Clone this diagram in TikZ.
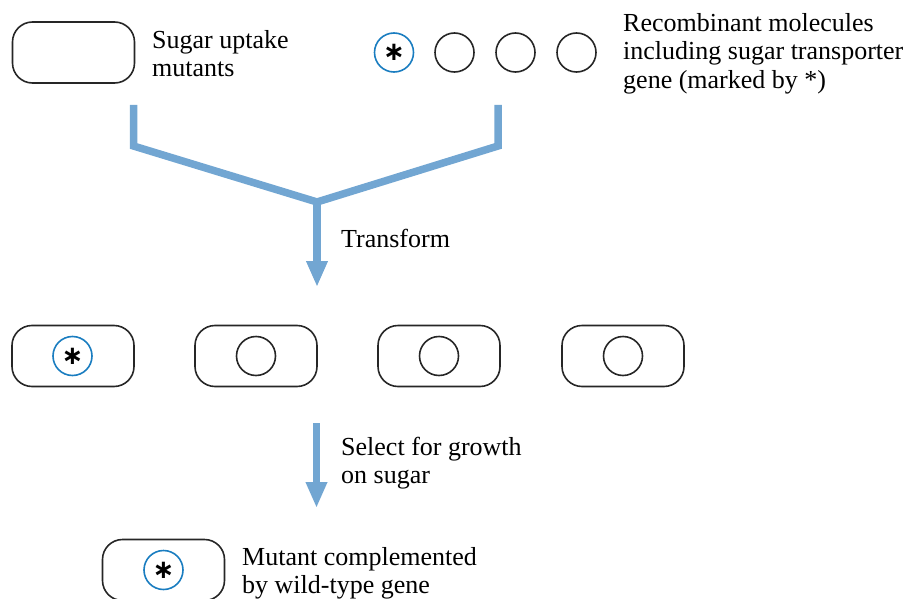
\documentclass[tikz,border=0pt]{standalone}
\usepackage{fontspec}
\setmainfont{Liberation Serif}
\newfontfamily\astfont{DejaVu Sans}
\usetikzlibrary{arrows.meta}
\definecolor{flowblue}{HTML}{72A6D2}
\definecolor{geneblue}{HTML}{1A7DC0}
\tikzset{
  cell/.style={draw=black!85, line width=1.6pt, rounded corners=20pt, minimum width=122pt, minimum height=61pt, inner sep=0pt},
  plasmid/.style={draw=black!85, line width=1.6pt, circle, minimum size=39pt, inner sep=0pt},
  recomb/.style={draw=geneblue, line width=1.6pt, circle, minimum size=39pt, inner sep=0pt},
  lbl/.style={anchor=base west, inner sep=0pt, align=left, font=\fontsize{26}{28.6}\selectfont},
  flow/.style={draw=flowblue, line width=7.5pt, miter limit=10},
  flowarrow/.style={flow, -{Triangle[width=20pt,length=26pt]}},
  ast/.style={inner sep=0pt, font=\astfont\bfseries\fontsize{26}{26}\selectfont}
}
\begin{document}
\begin{tikzpicture}[x=1pt,y=-1pt]
\useasboundingbox (0,0) rectangle (912,599);
% top row
\node[cell] (mut) at (73.5,52.5) {};
\node[lbl] (mutlbl) at (152,77) {Sugar uptake\\mutants};
\node[recomb] (r1) at (394,52.5) {};
\node[ast] (a1) at (r1.center) {∗};
\node[plasmid] (r2) at (454.5,52.5) {};
\node[plasmid] (r3) at (515.5,52.5) {};
\node[plasmid] (r4) at (576.5,52.5) {};
\node[lbl] (reclbl) at (623,88.5) {Recombinant molecules\\including sugar transporter\\gene (marked by *)};
% merging arrow
\coordinate (lt) at (133.5,105);
\coordinate (lc) at (133.5,146);
\coordinate (rt) at (498,105);
\coordinate (rc) at (498,146);
\coordinate (j) at (317,202);
\coordinate (t1) at (317,287);
\draw[flow] (lt) -- (lc) -- (j) -- (rc) -- (rt);
\draw[flowarrow] (j) -- (t1);
\node[lbl] (trlbl) at (341,247) {Transform};
% middle row
\node[cell] (c1) at (73,356) {};
\node[recomb] (p1) at (72.5,356) {};
\node[ast] (a2) at (p1.center) {∗};
\node[cell] (c2) at (256,356) {};
\node[plasmid] (p2) at (256,356) {};
\node[cell] (c3) at (439,356) {};
\node[plasmid] (p3) at (439,356) {};
\node[cell] (c4) at (623,356) {};
\node[plasmid] (p4) at (623,356) {};
% select arrow
\coordinate (s0) at (316.5,423);
\coordinate (s1) at (316.5,508);
\draw[flowarrow] (s0) -- (s1);
\node[lbl] (sellbl) at (341,483.6) {Select for growth\\on sugar};
% bottom
\node[cell] (c5) at (163.5,570) {};
\node[recomb] (p5) at (163.5,570) {};
\node[ast] (a3) at (p5.center) {∗};
\node[lbl] (complbl) at (242,593.6) {Mutant complemented\\by wild-type gene};
\end{tikzpicture}
\end{document}
